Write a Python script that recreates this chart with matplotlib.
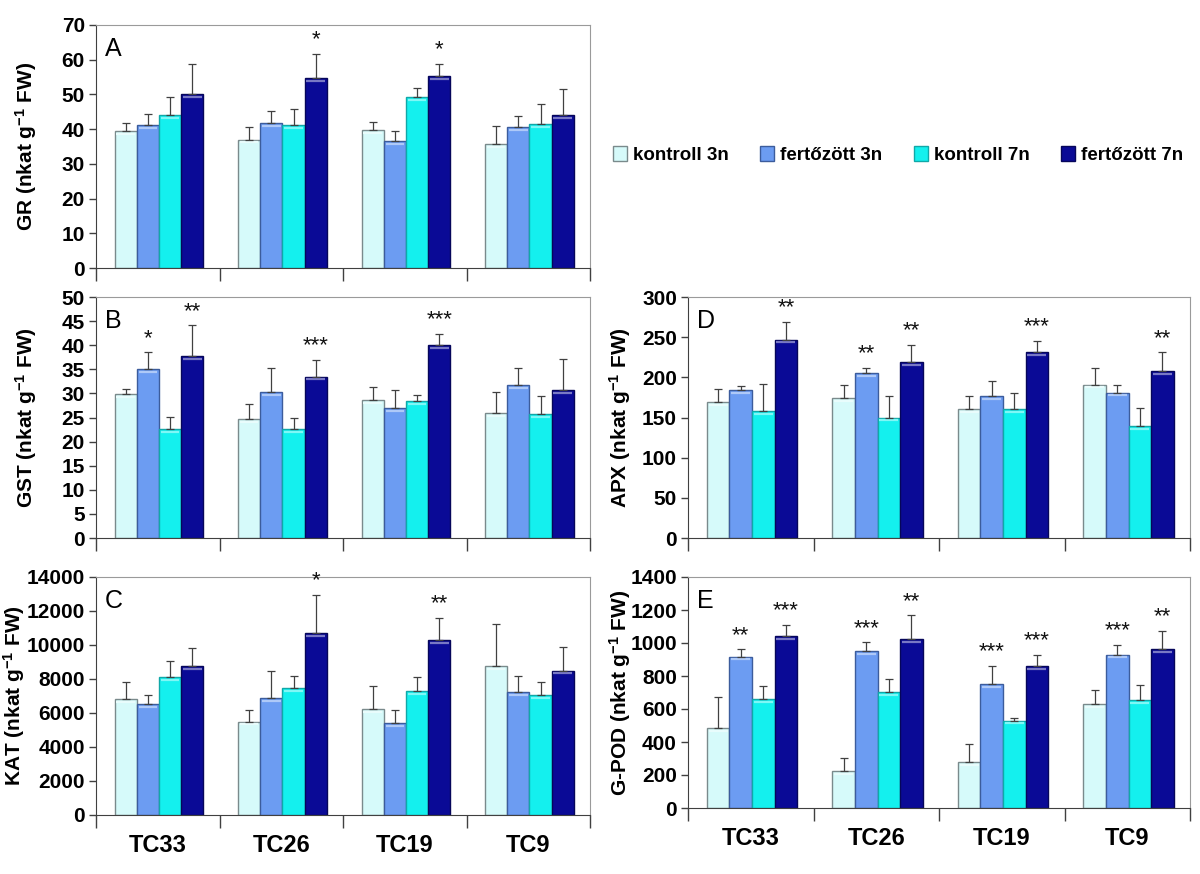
import numpy as np
import matplotlib.pyplot as plt
from matplotlib.colors import to_rgb

plt.rcParams['font.family'] = ['Liberation Sans', 'DejaVu Sans']
plt.rcParams['mathtext.fontset'] = 'custom'
plt.rcParams['mathtext.rm'] = 'Liberation Sans:bold'
plt.rcParams['mathtext.bf'] = 'Liberation Sans:bold'
plt.rcParams['mathtext.default'] = 'bf'

# ──────────────────────────────────────────────
# Data (rows = cultivars, cols = treatments)
# ──────────────────────────────────────────────
CATEGORIES = ["TC33", "TC26", "TC19", "TC9"]
SERIES = ["kontroll 3n", "fertőzött 3n", "kontroll 7n", "fertőzött 7n"]
COLORS = ["#d6fafa", "#6c9cf2", "#14f0ee", "#0a0a96"]
EDGES = ["#7a8a8c", "#3c5c9c", "#10a8a8", "#06065a"]

GR_MEAN = [[39.5, 41.2, 44.0, 50.2], [37.0, 41.7, 41.2, 54.6],
           [39.7, 36.7, 49.3, 55.2], [35.8, 40.5, 41.5, 44.0]]
GR_ERR = [[2.3, 3.3, 5.2, 8.5], [3.7, 3.5, 4.6, 7.1],
          [2.3, 2.8, 2.5, 3.6], [5.2, 3.3, 5.7, 7.5]]
GR_STARS = [["", "", "", ""], ["", "", "", "*"],
            ["", "", "", "*"], ["", "", "", ""]]

GST_MEAN = [[29.8, 35.0, 22.6, 37.8], [24.6, 30.2, 22.6, 33.5],
            [28.6, 27.0, 28.4, 40.0], [26.0, 31.7, 25.8, 30.7]]
GST_ERR = [[1.1, 3.5, 2.5, 6.3], [3.2, 5.1, 2.3, 3.5],
           [2.8, 3.7, 1.3, 2.4], [4.3, 3.6, 3.6, 6.4]]
GST_STARS = [["", "*", "", "**"], ["", "", "", "***"],
             ["", "", "", "***"], ["", "", "", ""]]

KAT_MEAN = [[6800, 6550, 8100, 8750], [5500, 6900, 7450, 10700],
            [6250, 5400, 7300, 10300], [8750, 7250, 7050, 8500]]
KAT_ERR = [[1000, 500, 980, 1070], [700, 1600, 700, 2250],
           [1350, 800, 800, 1300], [2500, 950, 750, 1380]]
KAT_STARS = [["", "", "", ""], ["", "", "", "*"],
             ["", "", "", "**"], ["", "", "", ""]]

APX_MEAN = [[169, 184, 158, 247], [174, 205, 150, 219],
            [160, 177, 160, 232], [191, 181, 139, 208]]
APX_ERR = [[17, 5, 34, 22], [16, 7, 27, 21],
           [17, 18, 21, 13], [21, 9, 23, 23]]
APX_STARS = [["", "", "", "**"], ["", "**", "", "**"],
             ["", "", "", "***"], ["", "", "", "**"]]

GPOD_MEAN = [[485, 918, 660, 1043], [222, 952, 702, 1022],
             [280, 752, 530, 858], [628, 930, 652, 962]]
GPOD_ERR = [[190, 44, 80, 67], [80, 53, 80, 146],
            [108, 110, 15, 70], [90, 58, 96, 113]]
GPOD_STARS = [["", "**", "", "***"], ["", "***", "", "**"],
              ["", "***", "", "***"], ["", "***", "", "**"]]

# ──────────────────────────────────────────────
# Layout
# ──────────────────────────────────────────────
W, H = 1200, 874
BAR_W = 0.18


def frac(x0, y0, x1, y1):
    return [x0 / W, 1 - y1 / H, (x1 - x0) / W, (y1 - y0) / H]


def lighter(col, amount=0.45):
    r, g, b = to_rgb(col)
    return (r + (1 - r) * amount, g + (1 - g) * amount, b + (1 - b) * amount)


def panel(ax, mean, err, stars, ymax, ystep, ylabel, letter, show_x):
    mean = np.array(mean, dtype=float)
    err = np.array(err, dtype=float)
    x = np.arange(len(CATEGORIES))
    for j, (name, col) in enumerate(zip(SERIES, COLORS)):
        xs = x + (j - 1.5) * BAR_W + 0.01
        ax.bar(xs, mean[:, j], BAR_W, color=col, edgecolor=EDGES[j],
               linewidth=1.0, label=name, zorder=2)
        # Excel-style light line just under each bar top
        ax.hlines(mean[:, j] - ymax * 0.012, xs - BAR_W * 0.42, xs + BAR_W * 0.42,
                  colors=[lighter(col)], linewidth=1.6, zorder=2.5)
        ax.errorbar(xs, mean[:, j], yerr=[np.zeros(len(x)), err[:, j]],
                    fmt="none", ecolor="#404040", elinewidth=0.9,
                    capsize=3, capthick=0.9, zorder=3)
        for i in range(len(x)):
            if stars[i][j]:
                ax.text(xs[i], mean[i, j] + err[i, j] + ymax * 0.015,
                        stars[i][j], ha="center", va="bottom",
                        fontsize=16, color="#111111")

    ax.set_xlim(-0.5, len(CATEGORIES) - 0.5)
    ax.set_ylim(0, ymax)
    ax.set_yticks(np.arange(0, ymax + ystep / 2, ystep))
    ax.tick_params(axis="y", labelsize=15, length=5, width=1,
                   color="#404040", pad=3)
    for lab in ax.get_yticklabels():
        lab.set_fontweight("bold")

    ax.set_xticks(np.arange(-0.5, len(CATEGORIES)), minor=True)
    ax.tick_params(axis="x", which="minor", length=9, width=1,
                   color="#404040", direction="out")
    ax.set_xticks(x)
    if show_x:
        ax.set_xticklabels(CATEGORIES, fontsize=17, fontweight="bold")
        ax.tick_params(axis="x", which="major", length=0, pad=14)
    else:
        ax.set_xticklabels([])
        ax.tick_params(axis="x", which="major", length=0)

    for side in ["top", "right"]:
        ax.spines[side].set_color("#9a9a9a")
    for side in ["left", "bottom"]:
        ax.spines[side].set_color("#404040")

    ax.set_ylabel(ylabel, fontsize=15, fontweight="bold")
    ax.text(0.018, 0.95, letter, transform=ax.transAxes, fontsize=18,
            ha="left", va="top")


fig = plt.figure(figsize=(12, 8.74), dpi=100)

ax_a = fig.add_axes(frac(96, 25, 590, 268))
ax_b = fig.add_axes(frac(96, 297, 590, 538))
ax_c = fig.add_axes(frac(96, 577, 590, 815))
ax_d = fig.add_axes(frac(688, 297, 1190, 538))
ax_e = fig.add_axes(frac(688, 577, 1190, 808))

panel(ax_a, GR_MEAN, GR_ERR, GR_STARS, 70, 10,
      r"GR (nkat g$^{-1}$ FW)", "A", False)
panel(ax_b, GST_MEAN, GST_ERR, GST_STARS, 50, 5,
      r"GST (nkat g$^{-1}$ FW)", "B", False)
panel(ax_c, KAT_MEAN, KAT_ERR, KAT_STARS, 14000, 2000,
      r"KAT (nkat g$^{-1}$ FW)", "C", True)
panel(ax_d, APX_MEAN, APX_ERR, APX_STARS, 300, 50,
      r"APX (nkat g$^{-1}$ FW)", "D", False)
panel(ax_e, GPOD_MEAN, GPOD_ERR, GPOD_STARS, 1400, 200,
      r"G-POD (nkat g$^{-1}$ FW)", "E", True)

for ax in [ax_a, ax_b]:
    ax.yaxis.set_label_coords(-0.115, 0.5)
# KAT has wider tick labels; keep its title just clear of them
ax_c.yaxis.set_label_coords(-0.14, 0.5)
for ax in [ax_d, ax_e]:
    ax.yaxis.set_label_coords(-0.11, 0.5)

handles, labels = ax_a.get_legend_handles_labels()
fig.legend(handles, labels, loc="center", bbox_to_anchor=(898 / W, 1 - 155 / H),
           ncol=4, frameon=False, prop={"size": 13.5, "weight": "bold"},
           handlelength=0.75, handleheight=0.9, handletextpad=0.3,
           columnspacing=1.7)

fig.savefig("out.png", dpi=100)
